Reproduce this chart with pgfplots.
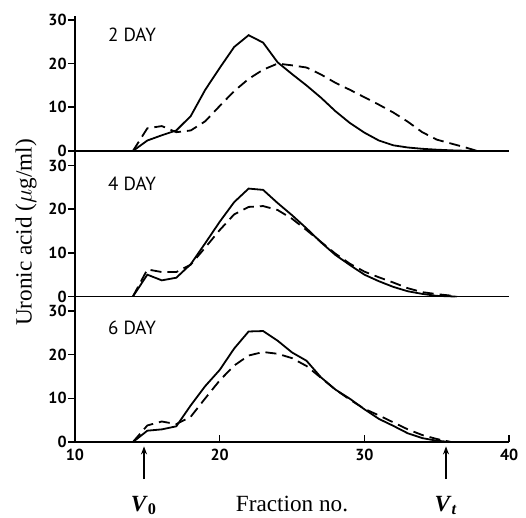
\documentclass[border=0pt]{standalone}
\usepackage{fontspec}
\setmainfont{Liberation Serif}
\setsansfont{PT Sans}
\usepackage{pgfplots}
\pgfplotsset{compat=1.18}
\usetikzlibrary{arrows.meta}

\pgfplotsset{
    panel/.style={
        x=7.235pt, y=2.185pt,
        xmin=10, xmax=40, ymin=0,
        axis lines=left,
        axis line style={-, line width=0.9pt},
        ytick={0,10,20,30}, xtick=\empty,
        tick align=inside,
        major tick length=3.5pt,
        tick style={line width=0.8pt, black},
        ytick style={xshift=-3.5pt},
        yticklabel style={xshift=-3pt, inner sep=1pt, font=\sffamily\bfseries\fontsize{8}{9}\selectfont},
        xticklabel style={font=\sffamily\bfseries\fontsize{8}{9}\selectfont},
        /pgf/number format/assume math mode=true,
        clip=false,
    },
}
\tikzset{
    fresh/.style={black, line width=0.9pt},
    aged/.style={black, line width=0.9pt, dash pattern=on 5.5pt off 3pt},
    daylabel/.style={anchor=west, font=\sffamily\fontsize{9.5}{10}\selectfont},
    marker/.style={-{Stealth[length=4pt,width=3pt]}, line width=0.7pt},
    serifbig/.style={font=\fontsize{11.6}{13}\selectfont},
}

\begin{document}
\begin{tikzpicture}
\useasboundingbox (-37.5pt,-183.5pt) rectangle (225.5pt,75.5pt);

% 2 day
\begin{axis}[panel, name=p1, ymax=31]
    \addplot[fresh] coordinates {
        (14,0) (15,2.4) (16,3.6) (17,4.7) (18,8) (19,14) (20,19) (21,23.8)
        (22,26.5) (23,24.8) (24,20.3) (25,17.6) (26,15) (27,12.2) (28,9.1)
        (29,6.4) (30,4.2) (31,2.4) (32,1.3) (33,0.8) (34,0.5) (35,0.3)
        (36,0.15) (37,0.05) (37.7,0)
    };
    \addplot[aged] coordinates {
        (14,0) (15,5.2) (16,5.7) (17,4.3) (18,4.7) (19,6.8) (20,10.3) (21,13.7)
        (22,16.5) (23,18.6) (24,20) (25,19.6) (26,19.1) (27,17.5) (28,15.6)
        (29,14) (30,12.3) (31,10.6) (32,8.8) (33,6.7) (34,4.3) (35,2.6)
        (36,1.7) (37,0.8) (37.8,0)
    };
    \node[daylabel] at (axis cs:11.8,26.6) {2 DAY};
\end{axis}

% 4 day
\begin{axis}[panel, name=p2, ymax=33.3,
    at={(p1.south west)}, anchor=north west,
    ylabel={Uronic acid ($\mu$g/ml)},
    ylabel style={at={(axis description cs:-0.072,0.44)}, anchor=south, serifbig},
]
    \addplot[fresh] coordinates {
        (14,0) (15,5) (16,3.7) (17,4.3) (18,7.4) (19,12.2) (20,17.1) (21,21.6)
        (22,24.7) (23,24.4) (24,21.4) (25,18.6) (26,15.6) (27,12.4) (28,9.5)
        (29,7.2) (30,5) (31,3.5) (32,2.2) (33,1.2) (34,0.6) (35,0.15) (36.3,0)
    };
    \addplot[aged] coordinates {
        (14,0) (15,6.2) (16,5.6) (17,5.6) (18,7.3) (19,11.2) (20,15.2) (21,18.8)
        (22,20.5) (23,20.7) (24,19.8) (25,17.8) (26,15.2) (27,12.5) (28,9.8)
        (29,7.5) (30,5.7) (31,4.4) (32,3.2) (33,1.9) (34,1.0) (35,0.55)
        (36,0.2) (36.4,0)
    };
    \node[daylabel] at (axis cs:11.8,25.8) {4 DAY};
\end{axis}

% 6 day
\begin{axis}[panel, name=p3, ymax=33.3,
    at={(p2.south west)}, anchor=north west,
    xtick={10,20,30,40},
    xlabel={Fraction no.},
    xlabel style={at={(axis cs:25,-15.8)}, anchor=base, serifbig},
]
    \addplot[fresh] coordinates {
        (14,0) (15,2.6) (16,2.9) (17,3.6) (18,8.4) (19,12.8) (20,16.5) (21,21.4)
        (22,25.3) (23,25.4) (24,23.2) (25,20.5) (26,18.6) (27,14.8) (28,12)
        (29,9.9) (30,7.5) (31,5.3) (32,3.7) (33,2) (34,0.9) (35,0.3) (36,0)
    };
    \addplot[aged] coordinates {
        (14,0) (15,3.8) (16,4.7) (17,4.1) (18,5.8) (19,10) (20,14.1) (21,17.5)
        (22,19.8) (23,20.6) (24,20.2) (25,19.2) (26,17.4) (27,14.7) (28,12)
        (29,9.7) (30,7.6) (31,6.1) (32,4.5) (33,2.9) (34,1.6) (35,0.7) (36,0)
    };
    \node[daylabel] at (axis cs:11.8,26.1) {6 DAY};
    % void and total volume markers
    \draw[marker] (axis cs:14.77,-8.5) -- (axis cs:14.77,-1);
    \draw[marker] (axis cs:35.64,-8.5) -- (axis cs:35.64,-1);
    \node[anchor=base, serifbig] at (axis cs:14.77,-15.8) {\textbf{\textit{V}}\textsubscript{\textbf{0}}};
    \node[anchor=base, serifbig] at (axis cs:35.64,-15.8) {\textbf{\textit{V}}\textsubscript{\textbf{\textit{t}}}};
\end{axis}
\end{tikzpicture}
\end{document}
